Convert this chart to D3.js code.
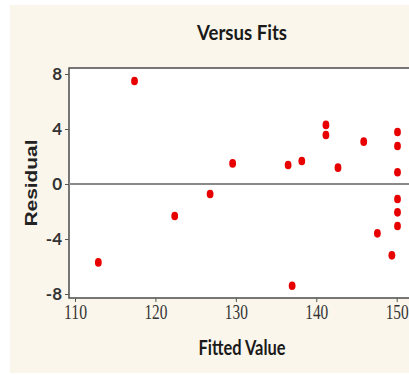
<!DOCTYPE html>
<html><head><meta charset="utf-8">
<script src="https://cdn.jsdelivr.net/npm/d3@7"></script>
<style>html,body{margin:0;padding:0;background:#fff;overflow:hidden}</style>
</head><body>
<script>
const fittedValues = [117.4,141.2,141.2,145.9,150.1,150.1,150.1,129.6,136.5,138.2,142.7,126.8,122.4,150.1,150.1,150.1,147.6,112.9,137.0,149.4];
const residuals    = [7.49,4.3,3.56,3.08,3.78,2.76,0.85,1.5,1.38,1.67,1.19,-0.73,-2.33,-1.09,-2.06,-3.05,-3.59,-5.7,-7.4,-5.19];
const xTicks = [110,120,130,140,150];
const yTicks = [-8,-4,0,4,8];
const title = "Versus Fits", xLabel = "Fitted Value", yLabel = "Residual";

const W=409,H=375;
const svg=d3.select("body").append("svg").attr("width",W).attr("height",H);
svg.append("rect").attr("x",10).attr("y",5).attr("width",W-10).attr("height",368).attr("fill","#faf6ec");

const pL=69, pT=68, pR=425, pB=298;
const x=d3.scaleLinear().domain([110,150]).range([75,396.7]);
const y=d3.scaleLinear().domain([-8,8]).range([294,74]);

svg.append("rect").attr("x",pL).attr("y",pT).attr("width",pR-pL).attr("height",pB-pT)
  .attr("fill","#fff").attr("stroke","#555").attr("stroke-width",1.6);

svg.append("line").attr("x1",pL).attr("x2",pR).attr("y1",y(0)).attr("y2",y(0))
  .attr("stroke","#8a8a8a").attr("stroke-width",2);

const tickFont='"Liberation Serif","DejaVu Serif",serif';
const xAxis=svg.append("g").attr("transform",`translate(0,${pB})`)
  .call(d3.axisBottom(x).tickValues(xTicks).tickSize(4).tickPadding(2).tickFormat(d=>String(d)));
xAxis.select(".domain").remove();
xAxis.selectAll("line").attr("stroke","#555");
xAxis.selectAll("text").attr("font-family",tickFont).attr("font-size",21).attr("fill","#333")
  .attr("textLength",23).attr("lengthAdjust","spacingAndGlyphs");

const yAxis=svg.append("g").attr("transform",`translate(${pL},0)`)
  .call(d3.axisLeft(y).tickValues(yTicks).tickSize(4).tickPadding(3).tickFormat(d=>String(d)));
yAxis.select(".domain").remove();
yAxis.selectAll("line").attr("stroke","#555");
yAxis.selectAll("text").attr("font-family","Lato, sans-serif").attr("font-weight","bold").attr("font-size",17).attr("fill","#333");

svg.append("g").selectAll("ellipse").data(fittedValues.map((f,i)=>[f,residuals[i]])).join("ellipse")
  .attr("cx",d=>x(d[0])).attr("cy",d=>y(d[1])).attr("rx",3.4).attr("ry",4.3).attr("fill","#e80000");

const labFont='Lato, "Open Sans", sans-serif';
svg.append("text").attr("x",242).attr("y",40).attr("text-anchor","middle")
  .attr("font-family",labFont).attr("font-weight","bold").attr("font-size",21).attr("fill","#1a1a1a")
  .attr("textLength",90).attr("lengthAdjust","spacingAndGlyphs").text(title);
svg.append("text").attr("x",242).attr("y",355).attr("text-anchor","middle")
  .attr("font-family",labFont).attr("font-weight","bold").attr("font-size",20).attr("fill","#1a1a1a")
  .attr("textLength",87).attr("lengthAdjust","spacingAndGlyphs").text(xLabel);
svg.append("text").attr("transform",`translate(37,183) rotate(-90)`).attr("text-anchor","middle")
  .attr("font-family","Liberation Sans, Arial, sans-serif").attr("font-weight","bold").attr("font-size",16).attr("fill","#222")
  .attr("textLength",87).attr("lengthAdjust","spacingAndGlyphs").text(yLabel);
</script>
</body></html>
